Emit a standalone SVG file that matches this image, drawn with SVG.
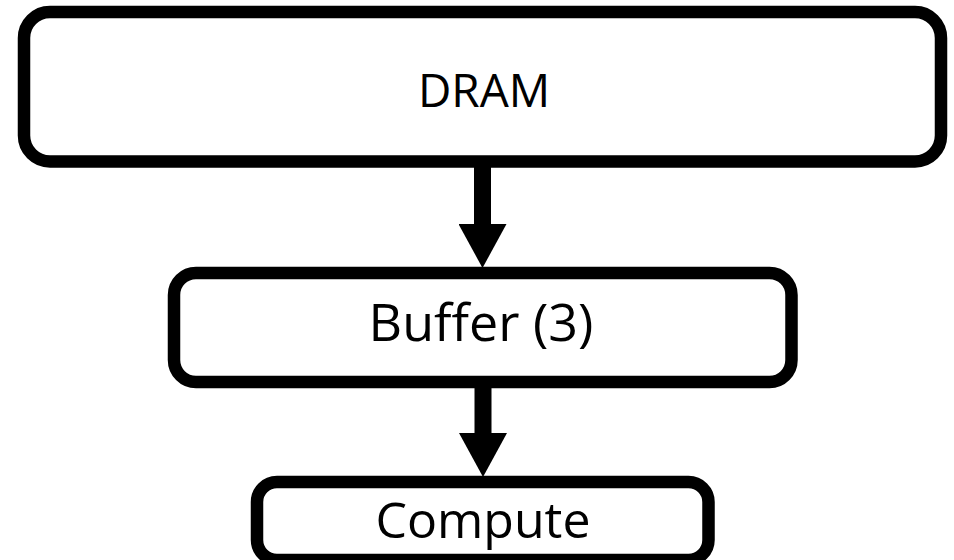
<svg xmlns="http://www.w3.org/2000/svg" width="954" height="560" viewBox="0 0 954 560">
<style>
.box{fill:#fff;stroke:#000;stroke-width:12.5}
.lbl{font-family:"Open Sans","Noto Sans","DejaVu Sans",sans-serif;fill:#000;text-anchor:middle}
.edge{stroke:#000;stroke-width:17;fill:none}
</style>
<defs>
<marker id="ah" markerUnits="userSpaceOnUse" markerWidth="44" markerHeight="48" refX="0" refY="24" orient="auto" viewBox="0 0 44 48">
<path d="M0,0 L44,24 L0,48 z" fill="#000"/>
</marker>
</defs>
<rect width="954" height="560" fill="#fff"/>
<g id="edges">
<line class="edge" x1="482.5" y1="167" x2="482.5" y2="224" marker-end="url(#ah)"/>
<line class="edge" x1="483" y1="388" x2="483" y2="433" marker-end="url(#ah)"/>
</g>
<g id="dram">
<rect class="box" x="24" y="12" width="917" height="149.5" rx="26"/>
<text class="lbl" x="484" y="107" font-size="46">DRAM</text>
</g>
<g id="buffer">
<rect class="box" x="174" y="273" width="617.5" height="109" rx="22"/>
<text class="lbl" x="481" y="341" font-size="52">Buffer (3)</text>
</g>
<g id="compute">
<rect class="box" x="257" y="482" width="451.5" height="78" rx="20"/>
<text class="lbl" x="483" y="538" font-size="50">Compute</text>
</g>
</svg>
